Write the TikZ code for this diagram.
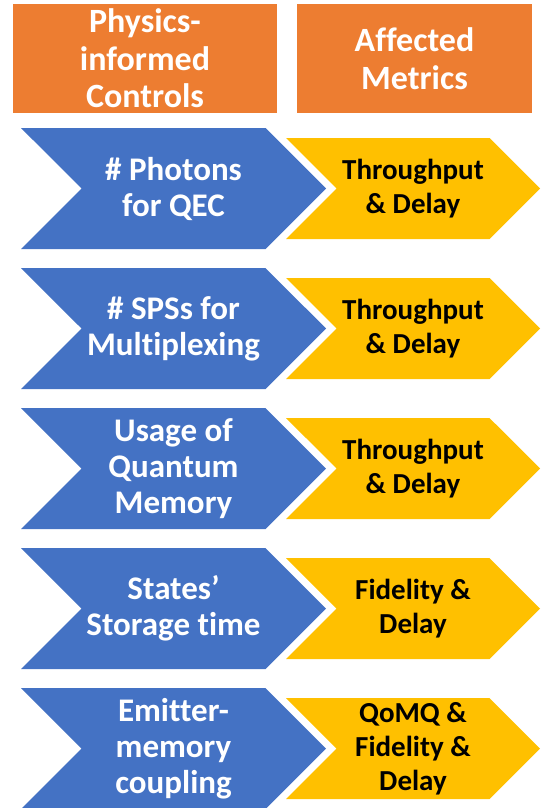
\documentclass[tikz,border=0pt]{standalone}
\usepackage{fontspec}
\setmainfont{Carlito}[Ligatures = NoCommon]
\usetikzlibrary{positioning, shapes.symbols}

\definecolor{hdrorange}{HTML}{ED7D31}
\definecolor{ctrlblue}{HTML}{4472C4}
\definecolor{metricgold}{HTML}{FFC000}

\begin{document}
\begin{tikzpicture}[
        x = 1pt, y = -1pt,
        node distance = 140pt,
        on grid,
        header/.style = {fill = hdrorange, text = white, align = center, inner sep = 0pt,
            minimum height = 109pt, font = \fontsize{34}{37.5}\selectfont\bfseries},
        control/.style = {signal, signal to = east, signal from = west, signal pointer angle = 90,
            fill = ctrlblue, text = white, align = center, inner sep = 0pt,
            minimum width = 305pt, minimum height = 121pt, font = \fontsize{33}{36}\selectfont\bfseries},
        metric/.style = {signal, signal to = east, signal from = west, signal pointer angle = 90,
            fill = metricgold, text = black, align = center, inner sep = 0pt,
            minimum width = 254pt, minimum height = 101pt, font = \fontsize{29}{34}\selectfont\bfseries}
    ]

        \useasboundingbox (0,0) rectangle (542,808);

        % column headers
        \node[header, minimum width = 264pt] (h_ctrl) at (145,58.5) {Physics-\\informed\\Controls};
        \node[header, minimum width = 235pt] (h_metr) at (414.5,58.5) {Affected\\Metrics};

        % controls
        \node[control] (c1) at (173.5,188.5) {\# Photons\\for QEC};
        \node[control] (c2) [below = of c1] {\# SPSs for\\Multiplexing};
        \node[control] (c3) [below = of c2] {Usage of\\Quantum\\Memory};
        \node[control] (c4) [below = of c3] {States’\\Storage time};
        \node[control] (c5) [below = of c4] {Emitter-\\memory\\coupling};

        % metrics
        \node[metric] (m1) [right = 239.5pt of c1] {Throughput\\\& Delay};
        \node[metric] (m2) [right = 239.5pt of c2] {Throughput\\\& Delay};
        \node[metric] (m3) [right = 239.5pt of c3] {Throughput\\\& Delay};
        \node[metric] (m4) [right = 239.5pt of c4] {Fidelity \&\\Delay};
        \node[metric] (m5) [right = 239.5pt of c5] {QoMQ \&\\Fidelity \&\\Delay};

\end{tikzpicture}
\end{document}
